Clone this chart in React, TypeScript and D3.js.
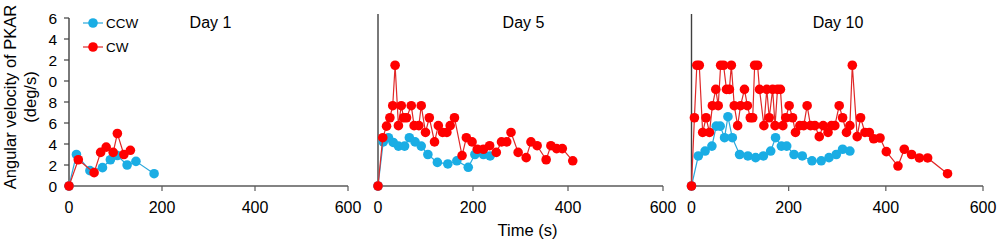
import React from "react";
import * as d3 from "d3";

// ---- Data ----
const panelTitles = ["Day 1", "Day 5", "Day 10"];
const seriesNames = ["CCW", "CW"];
const xTicks = [0, 200, 400, 600];
const yTickValues = [0, 2, 4, 6, 8, 10, 12, 14, 16];
const yTickLabels = ["0", "2", "4", "6", "8", "0", "2", "4", "6"];

const day1CcwT = [0, 16, 45, 72, 89, 104, 125, 144, 183];
const day1CcwV = [0, 3.0, 1.46, 1.75, 2.5, 2.9, 2.0, 2.35, 1.17];
const day1CwT = [0, 20, 54, 68, 80, 95, 104, 118, 132];
const day1CwV = [0, 2.5, 1.27, 3.2, 3.7, 3.2, 5.0, 3.0, 3.4];

const day5CcwT = [0, 11, 22, 32, 43, 56, 66, 78, 91, 105, 125, 147, 166, 190, 204, 222, 236];
const day5CcwV = [0, 4.2, 4.6, 4.15, 3.8, 3.8, 4.6, 4.2, 3.8, 3.0, 2.25, 2.1, 2.4, 1.78, 3.0, 3.0, 2.86];
const day5CwT = [0, 10, 18, 25, 31, 36, 43, 49, 54, 60, 70, 76, 86, 91, 100, 108, 119, 127, 136, 145, 152, 161, 177, 186, 198, 209, 222, 235, 249, 260, 271, 280, 295, 312, 322, 335, 354, 364, 376, 388, 410];
const day5CwV = [0, 4.6, 5.7, 6.5, 7.65, 11.5, 5.75, 7.65, 6.5, 6.5, 7.65, 5.75, 5.75, 7.65, 5.1, 6.5, 4.2, 5.75, 5.1, 5.1, 5.75, 6.5, 2.9, 4.6, 4.2, 3.5, 3.5, 3.84, 3.2, 4.2, 4.2, 5.1, 3.2, 2.7, 4.2, 3.84, 2.5, 3.84, 3.56, 3.56, 2.4];

const day10CcwT = [0, 14, 28, 42, 51, 59, 68, 75, 84, 99, 116, 132, 148, 163, 173, 185, 196, 211, 228, 248, 267, 283, 298, 311, 326];
const day10CcwV = [0, 2.86, 3.33, 3.8, 5.7, 5.7, 4.6, 6.6, 4.6, 3.0, 2.86, 2.7, 2.86, 3.33, 4.6, 3.8, 3.8, 3.0, 2.86, 2.4, 2.4, 2.7, 3.0, 3.5, 3.33];
const day10CwT = [0, 6, 11, 16, 23, 30, 37, 43, 50, 55, 60, 66, 72, 78, 82, 88, 95, 101, 109, 115, 121, 126, 130, 136, 140, 149, 155, 160, 167, 172, 177, 183, 188, 194, 201, 208, 214, 223, 231, 238, 245, 254, 263, 271, 281, 288, 295, 304, 311, 319, 326, 331, 341, 348, 357, 366, 375, 388, 401, 425, 438, 453, 469, 486, 527];
const day10CwV = [0, 6.5, 11.5, 11.5, 5.1, 6.5, 5.1, 7.65, 9.2, 7.65, 11.5, 11.5, 9.2, 9.2, 11.5, 7.65, 5.75, 7.65, 9.2, 7.65, 6.5, 6.5, 11.5, 11.5, 9.2, 5.75, 9.2, 6.5, 9.2, 5.75, 9.2, 9.2, 5.75, 6.5, 7.65, 6.5, 5.1, 5.75, 5.75, 7.65, 5.75, 5.75, 4.7, 5.75, 5.1, 5.75, 5.75, 7.65, 6.5, 5.1, 5.75, 11.5, 4.7, 6.5, 5.1, 5.1, 4.5, 4.57, 3.27, 1.9, 3.5, 3.0, 2.67, 2.67, 1.17];

const panelsData = [
  { ccwT: day1CcwT, ccwV: day1CcwV, cwT: day1CwT, cwV: day1CwV },
  { ccwT: day5CcwT, ccwV: day5CcwV, cwT: day5CwT, cwV: day5CwV },
  { ccwT: day10CcwT, ccwV: day10CcwV, cwT: day10CwT, cwV: day10CwV },
];

// ---- Layout / style ----
const W = 1004;
const H = 241;
const FONT = "'Liberation Sans', Arial, sans-serif";
const BLUE = "#1AADE4";
const BLUE_LINE = "#2BA8DC";
const RED = "#FF0000";
const RED_LINE = "#E02828";
const R = 4.8;
const panelX = [
  [69, 348],
  [378, 663],
  [691.5, 983],
];
const yScale = d3.scaleLinear().domain([0, 16]).range([186, 18]);

function Series({ x, ts, vs, fill, stroke }: any) {
  const pts = ts.map((t: number, i: number) => [t, vs[i]] as [number, number]);
  const line = d3
    .line<[number, number]>()
    .x((d) => x(d[0]))
    .y((d) => yScale(d[1]));
  return (
    <g>
      <path d={line(pts) || ""} fill="none" stroke={stroke} strokeWidth={1.2} />
      {pts.map((d: [number, number], i: number) => (
        <circle key={i} cx={x(d[0])} cy={yScale(d[1])} r={R} fill={fill} />
      ))}
    </g>
  );
}

export default function App() {
  return (
    <svg
      width={W}
      height={H}
      style={{ position: "absolute", left: 0, top: 0, background: "#fff" }}
      fontFamily={FONT}
    >
      {panelsData.map((p, pi) => {
        const x = d3.scaleLinear().domain([0, 600]).range(panelX[pi]);
        const y0 = yScale(0);
        return (
          <g key={pi}>
            {/* x axis */}
            <line x1={x(0)} x2={x(600)} y1={y0} y2={y0} stroke="#5a5a5a" strokeWidth={1.5} />
            {xTicks.map((t) => (
              <g key={t}>
                <line x1={x(t)} x2={x(t)} y1={y0} y2={y0 + 5} stroke="#5a5a5a" strokeWidth={1.2} />
                <text x={x(t)} y={213} textAnchor="middle" fontSize={16} fill="#000">
                  {t}
                </text>
              </g>
            ))}
            {/* y axis */}
            <line
              x1={x(0)}
              x2={x(0)}
              y1={pi === 0 ? yScale(16) : yScale(16) - 4}
              y2={y0}
              stroke="#404040"
              strokeWidth={1.4}
            />
            {pi === 0 &&
              yTickValues.map((v, i) => (
                <g key={v}>
                  <line x1={x(0) - 5} x2={x(0)} y1={yScale(v)} y2={yScale(v)} stroke="#404040" strokeWidth={1.2} />
                  <text x={57} y={yScale(v) + 5.5} textAnchor="end" fontSize={15.5} fill="#000">
                    {yTickLabels[i]}
                  </text>
                </g>
              ))}
            {/* title */}
            <text
              x={[210.5, 523.5, 838][pi]}
              y={28}
              textAnchor="middle"
              fontSize={16}
              fill="#000"
            >
              {panelTitles[pi]}
            </text>
            <Series x={x} ts={p.ccwT} vs={p.ccwV} fill={BLUE} stroke={BLUE_LINE} />
            <Series x={x} ts={p.cwT} vs={p.cwV} fill={RED} stroke={RED_LINE} />
          </g>
        );
      })}
      {/* legend */}
      {seriesNames.map((name, i) => {
        const ly = 23 + i * 24;
        return (
          <g key={name}>
            <line x1={83} x2={103} y1={ly} y2={ly} stroke={i === 0 ? BLUE_LINE : RED_LINE} strokeWidth={1.2} />
            <circle cx={93} cy={ly} r={R} fill={i === 0 ? BLUE : RED} />
            <text x={106} y={ly + 5} fontSize={13.5} fill="#000">
              {name}
            </text>
          </g>
        );
      })}
      {/* axis titles */}
      <text
        transform="translate(16,97) rotate(-90)"
        textAnchor="middle"
        fontSize={16.5}
        fill="#000"
      >
        Angular velocity of PKAR
      </text>
      <text
        transform="translate(36,97) rotate(-90)"
        textAnchor="middle"
        fontSize={16.5}
        fill="#000"
      >
        (deg/s)
      </text>
      <text x={527.5} y={236} textAnchor="middle" fontSize={16.5} fill="#000">
        Time (s)
      </text>
    </svg>
  );
}
